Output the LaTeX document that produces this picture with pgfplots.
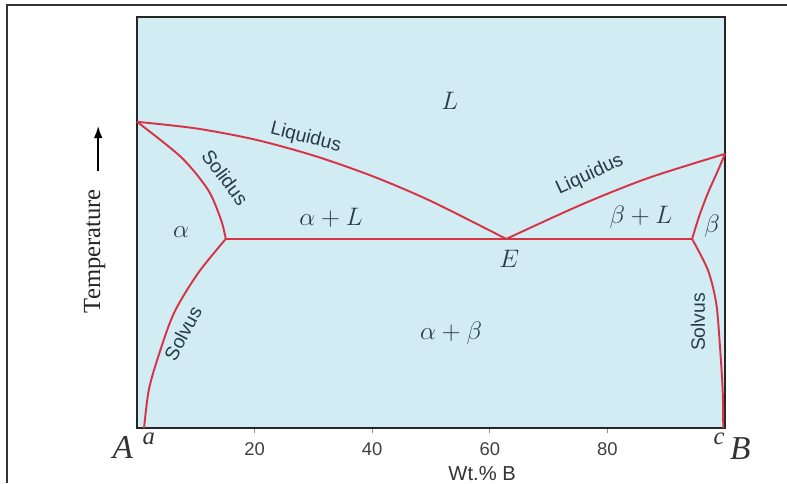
\documentclass[border=0pt]{standalone}
\usepackage{fontspec}
\setmainfont{Liberation Serif}
\setsansfont{Liberation Sans}
\usepackage{pgfplots}
\pgfplotsset{compat=1.18}
\usetikzlibrary{arrows.meta}
\definecolor{bgblue}{RGB}{210,236,243}
\definecolor{curvered}{RGB}{214,52,70}
\definecolor{lbl}{RGB}{40,58,74}
\begin{document}
\begin{tikzpicture}
\useasboundingbox (0,0) rectangle (15.74cm,9.66cm);
\draw[line width=0.9pt, black!80] (0.14cm,0) -- (0.14cm,9.56cm) -- (15.74cm,9.56cm);
\begin{axis}[
  at={(2.74cm,1.10cm)}, anchor=south west,
  width=11.76cm, height=8.22cm, scale only axis,
  xmin=0, xmax=100, ymin=0, ymax=100,
  axis background/.style={fill=bgblue},
  axis line style={line width=1.2pt, black!85},
  xtick={20,40,60,80}, ytick=\empty,
  xtick pos=bottom, tick align=outside,
  major tick length=3pt,
  tick style={black!45, line width=0.6pt},
  /pgf/number format/assume math mode=true,
  xticklabel style={font=\sffamily\fontsize{10.5}{12}\selectfont, text=black!75, yshift=-2pt},
  clip=false,
  phase/.style={draw=curvered, line width=1.1pt, mark=none},
]
% eutectic isotherm
\addplot[phase] coordinates {(15.1,46) (94.4,46)};
% left liquidus
\addplot[phase, smooth] coordinates {(0,74.5) (10,72.9) (20,70.2) (30,66.3) (40,61.3) (50,55.2) (62.8,46)};
% right liquidus
\addplot[phase, smooth] coordinates {(62.8,46) (75.5,54.3) (86.9,60.8) (100,66.7)};
% left solidus
\addplot[phase, smooth] coordinates {(0,74.5) (7.5,65.9) (12.1,57.9) (14.3,50.6) (15.1,46)};
% left solvus
\addplot[phase, smooth] coordinates {(15.1,46) (10.4,37.7) (6.3,28) (3.6,17.3) (2.0,9.2) (1.2,0)};
% right solidus
\addplot[phase, smooth] coordinates {(100,66.7) (98.6,62) (97.1,57.2) (95.6,51.5) (94.4,46)};
% right solvus
\addplot[phase, smooth] coordinates {(94.4,46) (97.1,38.4) (98.5,30.4) (99.1,20.7) (99.6,9.2) (99.7,0)};

\node[font=\fontsize{15}{15}\selectfont, text=lbl] at (53.2,79.6) {$L$};
\node[font=\sffamily\fontsize{11}{12}\selectfont, text=lbl, rotate=-14] at (28.7,70.6) {Liquidus};
\node[font=\sffamily\fontsize{11}{12}\selectfont, text=lbl, rotate=-53] at (15.0,61.0) {Solidus};
\node[font=\sffamily\fontsize{11}{12}\selectfont, text=lbl, rotate=25] at (77.0,61.6) {Liquidus};
\node[font=\sffamily\fontsize{11}{12}\selectfont, text=lbl, rotate=62] at (7.8,23.0) {Solvus};
\node[font=\sffamily\fontsize{11}{12}\selectfont, text=lbl, rotate=90] at (95.4,25.8) {Solvus};
\node[font=\fontsize{14}{14}\selectfont, text=lbl] at (7.5,47.6) {$\alpha$};
\node[font=\fontsize{14}{14}\selectfont, text=lbl] at (33,51.2) {$\alpha + L$};
\node[font=\fontsize{14}{14}\selectfont, text=lbl] at (63.3,41.2) {$E$};
\node[font=\fontsize{14}{14}\selectfont, text=lbl] at (85.7,51.2) {$\beta + L$};
\node[font=\fontsize{14}{14}\selectfont, text=lbl] at (97.8,49) {$\beta$};
\node[font=\fontsize{14}{14}\selectfont, text=lbl] at (53.4,23) {$\alpha + \beta$};
\node[font=\fontsize{19}{19}\selectfont\itshape, text=black!80] at (-2.4,-4.8) {A};
\node[font=\fontsize{14}{14}\selectfont\itshape, text=black!80] at (2.0,-2.6) {a};
\node[font=\fontsize{14}{14}\selectfont\itshape, text=black!80] at (99.0,-2.6) {c};
\node[font=\fontsize{19}{19}\selectfont\itshape, text=black!80] at (102.6,-4.9) {B};

\node[font=\sffamily\fontsize{11.5}{12}\selectfont, text=black!80] at (axis description cs:0.587,-0.112) {Wt.\% B};
\node[font=\fontsize{14}{14}\selectfont, rotate=90, text=black!85] at (axis description cs:-0.072,0.43) {Temperature};
\draw[-{Latex[length=7pt,width=5pt]}, line width=1pt, black] (axis description cs:-0.066,0.625) -- (axis description cs:-0.066,0.735);
\end{axis}
\end{tikzpicture}
\end{document}
